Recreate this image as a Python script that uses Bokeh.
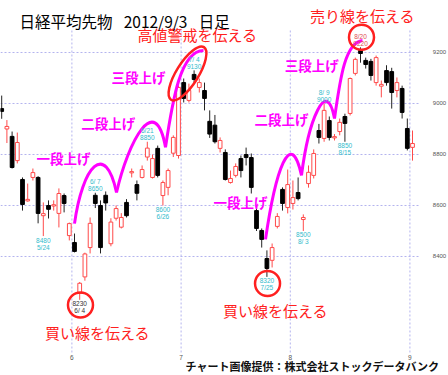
import math
from bokeh.plotting import figure
from bokeh.models import Range1d, ColumnDataSource
from bokeh.core.properties import value
from bokeh.embed import file_html
from bokeh.resources import INLINE

# ---------------- data ----------------
MONTHS = [5] * 14 + [6] * 21 + [7] * 21 + [8] * 23 + [9]
DAYS = [14, 15, 16, 17, 18, 21, 22, 23, 24, 25, 28, 29, 30, 31,
        1, 4, 5, 6, 7, 8, 11, 12, 13, 14, 15, 18, 19, 20, 21, 22, 25, 26, 27, 28, 29,
        2, 3, 4, 5, 6, 9, 10, 11, 12, 13, 17, 18, 19, 20, 23, 24, 25, 26, 27, 30, 31,
        1, 2, 3, 6, 7, 8, 9, 10, 13, 14, 15, 16, 17, 20, 21, 22, 23, 24, 27, 28, 29, 30, 31,
        3]
OPEN = [8980, 8900, 8871, 8776, 8702, 8618, 8710, 8710, 8560, 8600, 8598, 8569, 8639, 8482,
        8455, 8255, 8320, 8435, 8640, 8600, 8640, 8450, 8550, 8515, 8612, 8728, 8682, 8710, 8790, 8710, 8824, 8639, 8671, 8805, 8796,
        9082, 9012, 9114, 9063, 9051, 8930, 8915, 8824, 8808, 8690, 8718, 8784, 8800, 8788, 8580, 8502, 8392, 8385, 8518, 8663, 8592,
        8608, 8651, 8545, 8686, 8718, 8894, 8863, 8933, 8865, 8890, 8949, 8961, 9118, 9208, 9169, 9165, 9082, 9068, 9129, 9125, 9051, 9059, 8902,
        8828]
HIGH = [9031, 8935, 8890, 8886, 8710, 8686, 8745, 8715, 8612, 8620, 8620, 8667, 8647, 8533,
        8490, 8300, 8415, 8553, 8650, 8620, 8655, 8550, 8600, 8570, 8625, 8745, 8698, 8757, 8850, 8800, 8835, 8698, 8745, 8875, 9071,
        9098, 9078, 9130, 9098, 9082, 8973, 8955, 8867, 8820, 8737, 8765, 8796, 8827, 8804, 8600, 8510, 8424, 8451, 8570, 8671, 8741,
        8698, 8710, 8565, 8757, 8820, 8920, 9000, 8949, 8880, 8941, 8960, 9102, 9180, 9220, 9180, 9175, 9188, 9090, 9150, 9140, 9102, 9070, 8941,
        8894]
LOW = [8940, 8845, 8745, 8765, 8580, 8615, 8698, 8530, 8480, 8549, 8580, 8514, 8573, 8463,
       8416, 8230, 8305, 8412, 8590, 8412, 8580, 8440, 8541, 8510, 8553, 8710, 8620, 8706, 8776, 8706, 8710, 8600, 8640, 8790, 8784,
       9004, 9004, 9082, 9043, 8973, 8865, 8843, 8808, 8698, 8686, 8710, 8710, 8757, 8647, 8500, 8435, 8320, 8357, 8510, 8580, 8569,
       8584, 8620, 8500, 8670, 8706, 8843, 8850, 8855, 8855, 8875, 8850, 8953, 9110, 9160, 9137, 9090, 9070, 9024, 9070, 8980, 9024, 8941, 8816,
       8776]
CLOSE = [8969, 8910, 8749, 8847, 8604, 8624, 8729, 8569, 8568, 8585, 8603, 8647, 8608, 8529,
         8420, 8295, 8410, 8530, 8608, 8435, 8610, 8535, 8588, 8553, 8560, 8733, 8648, 8741, 8825, 8784, 8718, 8690, 8737, 8867, 9063,
         9020, 9051, 9094, 9082, 9020, 8880, 8850, 8855, 8702, 8706, 8753, 8737, 8788, 8671, 8510, 8467, 8353, 8435, 8557, 8608, 8682,
         8631, 8627, 8553, 8730, 8804, 8867, 8973, 8867, 8870, 8926, 8922, 9098, 9173, 9196, 9153, 9110, 9180, 9075, 9082, 9043, 9082, 8965, 8824,
         8843]

PRICE_TICKS = [8400, 8600, 8800, 9000, 9200]
PRICE_LABELS = ["8400", "8600", "8800", "9000", "9200"]
MONTH_LABELS = ["6", "7", "8", "9"]

LOW_TAG_DAYS = ["5/24", "6/4", "6/26", "7/25", "8/3", "8/15"]
LOW_TAG_COLORS = ["#33bbcc", "#333333", "#33bbcc", "#33bbcc", "#33bbcc", "#33bbcc"]
HIGH_TAG_DAYS = ["6/7", "6/21", "7/4", "8/9", "8/20"]
HIGH_TAG_COLORS = ["#33bbcc", "#33bbcc", "#33bbcc", "#33bbcc", "#e05050"]

TITLE = "日経平均先物\u2002 2012/9/3\u2002 日足"
CREDIT = "チャート画像提供：株式会社ストックデータバンク"

# annotation texts (x in trading-day index, y in price)
STEP_TEXT = ["一段上げ", "二段上げ", "三段上げ", "一段上げ", "二段上げ", "三段上げ"]
STEP_X = [11.9, 20.5, 26.3, 45.9, 53.8, 59.6]
STEP_Y = [8788, 8925, 9102, 8612, 8941, 9149]

NOTE_TEXT = ["高値警戒を伝える", "売り線を伝える", "買い線を伝える", "買い線を伝える"]
NOTE_X = [37.65, 69.38, 18.42, 52.65]
NOTE_Y = [9270, 9345, 8102, 8188]

RING_X = [15.15, 51.12, 69.19]
RING_Y = [8210, 8294, 9260]
OVAL_X = [35.73]
OVAL_Y = [9118]

# magenta wave curves (cubic bezier: start, ctrl1, ctrl2, end)
WAVE_X0 = [14.0, 22.08, 31.5, 50.73, 57.65, 64.0]
WAVE_Y0 = [8529, 8651, 8828, 8467, 8718, 8941]
WAVE_CX0 = [15.54, 24.38, 32.85, 52.65, 58.98, 65.15]
WAVE_CY0 = [8757, 8855, 9012, 8737, 8933, 9110]
WAVE_CX1 = [19.96, 29.58, 34.38, 55.54, 62.46, 66.12]
WAVE_CY1 = [8855, 9051, 9208, 8914, 9110, 9239]
WAVE_X1 = [22.08, 31.5, 38.81, 57.65, 64.0, 69.38]
WAVE_Y1 = [8651, 8828, 9208, 8718, 8941, 9247]

# ---------------- layout constants ----------------
X_LO, X_HI = -0.231, 85.92          # whole canvas in trading-day units
Y_LO, Y_HI = 7933.3, 9403.9         # whole canvas in price units
PLOT_X_END = 80.35                  # right edge of the chart area
PLOT_Y_BOTTOM = 8023.5              # bottom edge of the chart area
GRID_TOP = 9290
PRICE_LABEL_X = 82.9
MONTH_LABEL_Y = 8004
CREDIT_X, CREDIT_Y = 84.0, 7972

# ---------------- derived ----------------
n = len(OPEN)
idx = list(range(n))
DATES = [f"{m}/{d}" for m, d in zip(MONTHS, DAYS)]
SHOW = [f"{m}/{d:>2}" for m, d in zip(MONTHS, DAYS)]
month_bounds = [i - 0.5 for i in range(1, n) if MONTHS[i] != MONTHS[i - 1]]

UP = "#ff4a4a"
RED = "#ff2020"
MAG = "#ff00ff"
GRID = "#b4b4ee"
JP = value("Noto Sans CJK JP")
SMALL = value("Liberation Sans")

p = figure(width=448, height=375, x_range=Range1d(X_LO, X_HI), y_range=Range1d(Y_LO, Y_HI),
           output_backend="svg", toolbar_location=None, x_axis_location=None, y_axis_location=None,
           min_border=0)
p.outline_line_color = None
p.background_fill_color = "white"
p.border_fill_color = "white"
p.grid.visible = False

# grid lines
p.segment(x0=[X_LO] * len(PRICE_TICKS), y0=PRICE_TICKS, x1=[PLOT_X_END] * len(PRICE_TICKS), y1=PRICE_TICKS,
          line_color=GRID, line_dash="2 2", line_width=1)
p.segment(x0=month_bounds, y0=[PLOT_Y_BOTTOM] * len(month_bounds), x1=month_bounds,
          y1=[GRID_TOP] * len(month_bounds), line_color=GRID, line_dash="2 2", line_width=1)

# tick labels
p.text(x=[PRICE_LABEL_X] * len(PRICE_TICKS), y=PRICE_TICKS, text=PRICE_LABELS, text_color="#555555",
       text_font=SMALL, text_font_size="6px", text_align="left", text_baseline="middle")
p.text(x=month_bounds, y=[MONTH_LABEL_Y] * len(month_bounds), text=MONTH_LABELS, text_color="#555555",
       text_font=SMALL, text_font_size="6.5px", text_align="center", text_baseline="middle")

# candles
up = [c >= o for o, c in zip(OPEN, CLOSE)]
src = ColumnDataSource(dict(
    x=idx, high=HIGH, low=LOW,
    top=[max(o, c) for o, c in zip(OPEN, CLOSE)],
    bottom=[min(o, c) for o, c in zip(OPEN, CLOSE)],
    wick=[UP if u else "#222222" for u in up],
    fill=["white" if u else "black" for u in up],
    edge=[UP if u else "black" for u in up],
))
p.segment(x0="x", y0="low", x1="x", y1="high", line_color="wick", line_width=1, source=src)
p.vbar(x="x", width=0.72, top="top", bottom="bottom", fill_color="fill", line_color="edge",
       line_width=1, source=src)

# magenta waves
p.bezier(x0=WAVE_X0, y0=WAVE_Y0, x1=WAVE_X1, y1=WAVE_Y1, cx0=WAVE_CX0, cy0=WAVE_CY0,
         cx1=WAVE_CX1, cy1=WAVE_CY1, line_color=MAG, line_width=3)

# red rings
p.scatter(x=RING_X, y=RING_Y, size=25, marker="circle", fill_color=None, line_color=RED, line_width=2.5)
p.ellipse(x=OVAL_X, y=OVAL_Y, width=62, height=22, width_units="screen", height_units="screen",
          angle=math.radians(58), fill_color=None, line_color=RED, line_width=2.5)

# high / low tags
li = [DATES.index(d) for d in LOW_TAG_DAYS]
hi = [DATES.index(d) for d in HIGH_TAG_DAYS]
p.text(x=li, y=[LOW[i] for i in li], text=[str(LOW[i]) for i in li], text_color=LOW_TAG_COLORS,
       text_font=SMALL, text_font_size="6.5px", text_align="center", text_baseline="middle", y_offset=4)
p.text(x=li, y=[LOW[i] for i in li], text=[SHOW[i] for i in li], text_color=LOW_TAG_COLORS,
       text_font=SMALL, text_font_size="6.5px", text_align="center", text_baseline="middle", y_offset=11)
p.text(x=hi, y=[HIGH[i] for i in hi], text=[SHOW[i] for i in hi], text_color=HIGH_TAG_COLORS,
       text_font=SMALL, text_font_size="6.5px", text_align="center", text_baseline="middle", y_offset=-11)
p.text(x=hi, y=[HIGH[i] for i in hi], text=[str(HIGH[i]) for i in hi], text_color=HIGH_TAG_COLORS,
       text_font=SMALL, text_font_size="6.5px", text_align="center", text_baseline="middle", y_offset=-4)

# annotation texts
p.text(x=STEP_X, y=STEP_Y, text=STEP_TEXT, text_color=MAG, text_font=JP, text_font_size="13.5px",
       text_font_style="bold", text_align="center", text_baseline="middle")
p.text(x=NOTE_X, y=NOTE_Y, text=NOTE_TEXT, text_color=RED, text_font=JP, text_font_size="15px",
       text_align="center", text_baseline="middle")
p.text(x=[3.42], y=[9325], text=[TITLE], text_color="black", text_font=JP, text_font_size="15.5px",
       text_align="left", text_baseline="middle")
p.text(x=[CREDIT_X], y=[CREDIT_Y], text=[CREDIT], text_color="#111111", text_font=JP,
       text_font_size="11px", text_font_style="bold", text_align="right", text_baseline="middle")

open("out.html", "w").write(file_html(p, INLINE))
